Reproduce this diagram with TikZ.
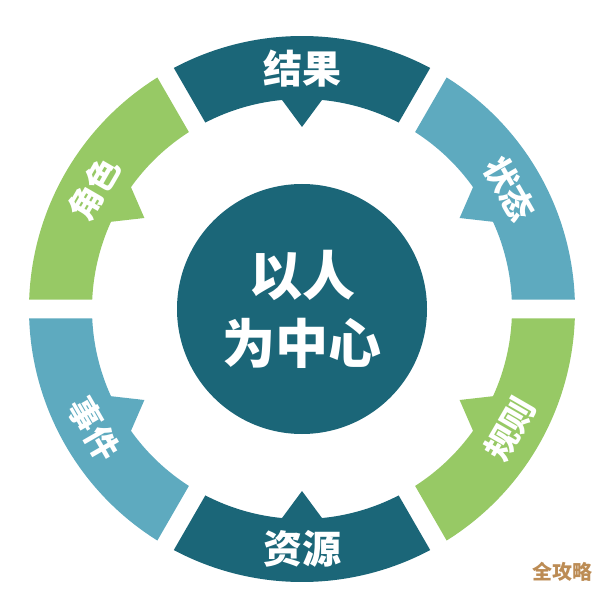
\documentclass[tikz,border=0pt]{standalone}
\usepackage{fontspec}
\newfontfamily\cjk{Noto Sans CJK SC}
\definecolor{dteal}{HTML}{1B6678}
\definecolor{lteal}{HTML}{5EAABF}
\definecolor{lgreen}{HTML}{97C965}
\definecolor{wmark}{HTML}{BC8C55}
\tikzset{
  segfill/.style={fill=#1, draw=none},
  seglabel/.style={text=white, font={\cjk\bfseries\fontsize{33}{36}\selectfont}, inner sep=0pt},
  seglabelbig/.style={text=white, font={\cjk\bfseries\fontsize{39}{42}\selectfont}, inner sep=0pt},
}
\begin{document}
\begin{tikzpicture}[x=1pt,y=1pt]
\useasboundingbox (0,0) rectangle (600,590);
\node[circle, fill=dteal, minimum size=250pt, inner sep=0pt, align=center, text=white,
      font={\cjk\bfseries\fontsize{53}{68}\selectfont}] (hub) at (302,281) {以人\\为中心};
\begin{scope}[shift={(302pt,281pt)}]
\pgfmathsetmacro{\ao}{asin(9.5/273)}
\pgfmathsetmacro{\ai}{asin(9.5/210)}
\pgfmathsetmacro{\tb}{asin(20/210)}
\foreach \t/\col/\txt/\rot/\nm/\sty in {90/dteal/结果/0/res/seglabelbig, 30/lteal/状态/-60/sta/seglabel, -30/lgreen/规则/60/rul/seglabel, -90/dteal/资源/0/src/seglabelbig, -150/lteal/事件/-60/evt/seglabel, 150/lgreen/角色/60/rol/seglabel}{
  \pgfmathsetmacro{\sa}{\t-30+\ao}
  \pgfmathsetmacro{\ea}{\t+30-\ao}
  \pgfmathsetmacro{\ia}{\t+30-\ai}
  \pgfmathsetmacro{\ib}{\t+\tb}
  \pgfmathsetmacro{\ic}{\t-\tb}
  \pgfmathsetmacro{\id}{\t-30+\ai}
  \fill[segfill=\col] (\sa:273pt) arc[start angle=\sa, end angle=\ea, radius=273pt]
     -- (\ia:210pt) arc[start angle=\ia, end angle=\ib, radius=210pt]
     -- (\t:182pt) -- (\ic:210pt) arc[start angle=\ic, end angle=\id, radius=210pt] -- cycle;
  \node[\sty, rotate=\rot] (\nm) at (\t:240pt) {\txt};
}
\end{scope}
\node[text=wmark, font={\cjk\bfseries\fontsize{20}{22}\selectfont}, inner sep=0pt] (wm) at (562,18) {全攻略};
\end{tikzpicture}
\end{document}
